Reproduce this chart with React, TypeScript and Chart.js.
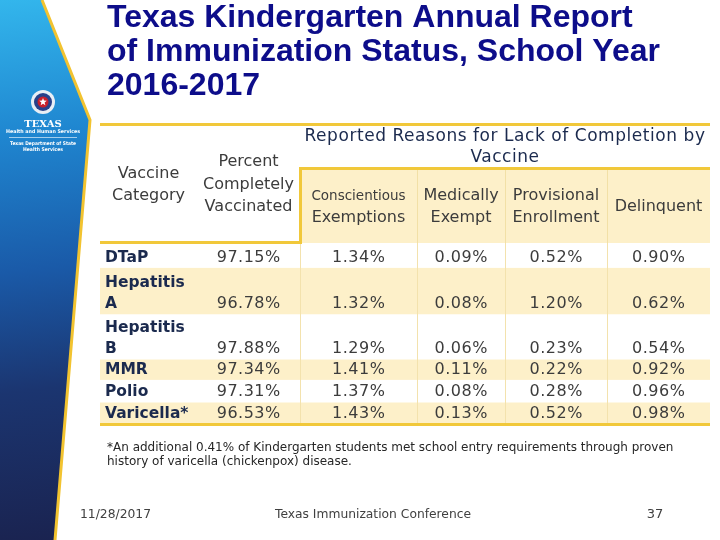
import React, { useEffect, useRef } from "react";
import { Chart, registerables } from "chart.js";

Chart.register(...registerables);

// ---- data ----
const vaccines = [["DTaP"], ["Hepatitis", "A"], ["Hepatitis", "B"], ["MMR"], ["Polio"], ["Varicella*"]];
const pctComplete = [97.15, 96.78, 97.88, 97.34, 97.31, 96.53];
const conscientious = [1.34, 1.32, 1.29, 1.41, 1.37, 1.43];
const medicallyExempt = [0.09, 0.08, 0.06, 0.11, 0.08, 0.13];
const provisional = [0.52, 1.2, 0.23, 0.22, 0.28, 0.52];
const delinquent = [0.9, 0.62, 0.54, 0.92, 0.96, 0.98];
const columnHeaders = [
  ["Vaccine", "Category"],
  ["Percent", "Completely", "Vaccinated"],
  ["Conscientious", "Exemptions"],
  ["Medically", "Exempt"],
  ["Provisional", "Enrollment"],
  ["Delinquent"],
];
const groupHeader = ["Reported Reasons for Lack of Completion by", "Vaccine"];
const titleLines = ["Texas Kindergarten Annual Report", "of Immunization Status, School Year", "2016-2017"];
const footnote = [
  "*An additional 0.41% of Kindergarten students met school entry requirements through proven",
  "history of varicella (chickenpox) disease.",
];
const footerDate = "11/28/2017";
const footerCenter = "Texas Immunization Conference";
const footerPage = "37";

// ---- layout ----
const columnWidths = [97, 103, 117, 88, 102, 103];
const rowUnits = [1.1, 2.05, 2, 0.9, 1, 0.95];
const colEdges = columnWidths.reduce((a, w) => [...a, a[a.length - 1] + w], [0] as number[]);
const rowEdges = rowUnits.reduce((a, w) => [...a, a[a.length - 1] + w], [0] as number[]);
const totalCols = colEdges[colEdges.length - 1];
const totalRows = rowEdges[rowEdges.length - 1];
const rowTextY = (r: number) => rowEdges[r + 1] - 0.45;
const colCenter = (c: number) => (colEdges[c] + colEdges[c + 1]) / 2;

const YELLOW = "#f1c83a";
const PALE = "#fdf0c9";
const NAVY = "#1b2a4e";
const GREY = "#3c3c3c";
const VALUE_FONT = "16px 'DejaVu Sans'";

const valueColumns = [pctComplete, conscientious, medicallyExempt, provisional, delinquent];

const slidePlugin = {
  id: "slidePlugin",
  beforeDatasetsDraw(chart: any) {
    const { ctx, chartArea, scales } = chart;
    const xs = scales.x;
    const ys = scales.y;
    const X = (v: number) => xs.getPixelForValue(v);
    const Y = (v: number) => ys.getPixelForValue(v);
    const L = X(0);
    const R = X(totalCols);
    const T = chartArea.top;
    const B = Y(totalRows);
    ctx.save();
    ctx.fillStyle = "#ffffff";
    ctx.fillRect(0, 0, chart.width, chart.height);

    // sidebar
    const g = ctx.createLinearGradient(0, 0, 60, 540);
    g.addColorStop(0, "#33b6ec");
    g.addColorStop(0.25, "#1f86d0");
    g.addColorStop(0.5, "#1a5aa8");
    g.addColorStop(0.72, "#1b3570");
    g.addColorStop(1, "#1a2350");
    ctx.beginPath();
    ctx.moveTo(0, 0);
    ctx.lineTo(42, 0);
    ctx.lineTo(90, 120);
    ctx.lineTo(55, 540);
    ctx.lineTo(0, 540);
    ctx.closePath();
    ctx.fillStyle = g;
    ctx.fill();
    ctx.beginPath();
    ctx.moveTo(42, 0);
    ctx.lineTo(90, 120);
    ctx.lineTo(55, 540);
    ctx.strokeStyle = "#f2c330";
    ctx.lineWidth = 3;
    ctx.stroke();
    // logo
    ctx.beginPath();
    ctx.arc(43, 102, 12, 0, Math.PI * 2);
    ctx.fillStyle = "#e8eef5";
    ctx.fill();
    ctx.beginPath();
    ctx.arc(43, 102, 9, 0, Math.PI * 2);
    ctx.fillStyle = "#27418a";
    ctx.fill();
    ctx.beginPath();
    ctx.arc(43, 102, 5.5, 0, Math.PI * 2);
    ctx.fillStyle = "#c8202c";
    ctx.fill();
    ctx.beginPath();
    for (let i = 0; i < 10; i++) {
      const a = -Math.PI / 2 + (i * Math.PI) / 5;
      const rr = i % 2 === 0 ? 4 : 1.7;
      const px = 43 + rr * Math.cos(a);
      const py = 102 + rr * Math.sin(a);
      if (i === 0) ctx.moveTo(px, py);
      else ctx.lineTo(px, py);
    }
    ctx.closePath();
    ctx.fillStyle = "#ffffff";
    ctx.fill();
    ctx.fillStyle = "#ffffff";
    ctx.textAlign = "center";
    ctx.textBaseline = "middle";
    ctx.font = "bold 10px 'DejaVu Serif'";
    ctx.fillText("TEXAS", 43, 124);
    ctx.font = "bold 5px 'DejaVu Sans'";
    ctx.fillText("Health and Human Services", 43, 132, 74);
    ctx.fillRect(9, 137, 68, 0.6);
    ctx.fillText("Texas Department of State", 43, 144, 66);
    ctx.fillText("Health Services", 43, 150, 40);

    // title
    ctx.textAlign = "left";
    ctx.textBaseline = "alphabetic";
    ctx.fillStyle = "#0d0d8a";
    ctx.font = "bold 32px 'Liberation Sans', Arial";
    titleLines.forEach((t, i) => ctx.fillText(t, 107, 27 + i * 34));

    // header
    ctx.fillStyle = PALE;
    ctx.fillRect(X(colEdges[2]), T - 75, R - X(colEdges[2]), 75);
    ctx.strokeStyle = "#f2e0a6";
    ctx.lineWidth = 1;
    for (let c = 3; c < colEdges.length - 1; c++) {
      ctx.beginPath();
      ctx.moveTo(Math.round(X(colEdges[c])) + 0.5, T - 74);
      ctx.lineTo(Math.round(X(colEdges[c])) + 0.5, T);
      ctx.stroke();
    }

    // row bands
    rowUnits.forEach((_, r) => {
      if (r % 2 === 1) {
        ctx.fillStyle = PALE;
        ctx.fillRect(L, Y(rowEdges[r]), R - L, Y(rowEdges[r + 1]) - Y(rowEdges[r]));
      }
    });
    // body column dividers
    ctx.strokeStyle = "#f3e2ad";
    for (let c = 2; c < colEdges.length - 1; c++) {
      ctx.beginPath();
      ctx.moveTo(Math.round(X(colEdges[c])) + 0.5, T);
      ctx.lineTo(Math.round(X(colEdges[c])) + 0.5, B);
      ctx.stroke();
    }

    // strong borders
    ctx.fillStyle = YELLOW;
    ctx.fillRect(L, T - 120, R - L, 3);
    ctx.fillRect(X(colEdges[2]), T - 76, R - X(colEdges[2]), 3);
    ctx.fillRect(X(colEdges[2]) - 1, T - 76, 3, 76);
    ctx.fillRect(L, T - 2, X(colEdges[2]) - L + 2, 3);
    ctx.fillRect(L, B - 1, R - L, 3);

    // header texts
    ctx.textAlign = "center";
    ctx.textBaseline = "middle";
    ctx.fillStyle = NAVY;
    ctx.font = "17px 'DejaVu Sans'";
    (ctx as any).letterSpacing = "0.55px";
    const gc = (X(colEdges[2]) + R) / 2;
    ctx.fillText(groupHeader[0], gc, T - 106);
    ctx.fillText(groupHeader[1], gc, T - 85);
    (ctx as any).letterSpacing = "0px";

    ctx.fillStyle = GREY;
    ctx.font = "16px 'DejaVu Sans'";
    const pctY = [-81, -58, -36];
    const c0 = colCenter(0);
    ctx.fillText(columnHeaders[0][0], X(c0), T - 69);
    ctx.fillText(columnHeaders[0][1], X(c0), T - 47);
    columnHeaders[1].forEach((t, i) => ctx.fillText(t, X(colCenter(1)), T + pctY[i]));
    for (let c = 2; c < columnHeaders.length; c++) {
      const lines = columnHeaders[c];
      const cx = X(colCenter(c));
      if (lines.length === 1) {
        ctx.font = "16px 'DejaVu Sans'";
        ctx.fillText(lines[0], cx, T - 36);
      } else {
        lines.forEach((t, i) => {
          ctx.font = c === 2 && i === 0 ? "13.5px 'DejaVu Sans'" : "16px 'DejaVu Sans'";
          ctx.fillText(t, cx, T - 47 + i * 22);
        });
      }
    }

    // footnote & footer
    ctx.textAlign = "left";
    ctx.fillStyle = "#262626";
    ctx.font = "12px 'DejaVu Sans'";
    ctx.fillText(footnote[0], 107, 448, 572);
    ctx.fillText(footnote[1], 107, 462, 246);
    ctx.fillStyle = "#404040";
    ctx.font = "13px 'DejaVu Sans'";
    ctx.fillText(footerDate, 80, 515, 71);
    ctx.textAlign = "center";
    ctx.fillText(footerCenter, 373, 515, 196);
    ctx.fillText(footerPage, 655, 515);
    ctx.restore();
  },
  afterDatasetsDraw(chart: any) {
    const { ctx } = chart;
    ctx.save();
    ctx.textBaseline = "middle";
    // vaccine names (dataset 0)
    const nameMeta = chart.getDatasetMeta(0);
    ctx.textAlign = "left";
    ctx.fillStyle = NAVY;
    ctx.font = "bold 15.5px 'DejaVu Sans'";
    nameMeta.data.forEach((pt: any, r: number) => {
      const lines = vaccines[r];
      lines.forEach((t, i) => ctx.fillText(t, pt.x, pt.y - (lines.length - 1 - i) * 21));
    });
    // values
    ctx.textAlign = "center";
    ctx.fillStyle = GREY;
    ctx.font = VALUE_FONT;
    (ctx as any).letterSpacing = "0.5px";
    valueColumns.forEach((vals, c) => {
      const meta = chart.getDatasetMeta(c + 1);
      meta.data.forEach((pt: any, r: number) => {
        ctx.fillText(vals[r].toFixed(2) + "%", pt.x + 0.25, pt.y);
      });
    });
    ctx.restore();
  },
};

export default function App() {
  const ref = useRef<HTMLCanvasElement>(null);
  useEffect(() => {
    if (!ref.current) return;
    const datasets: any[] = [
      {
        label: columnHeaders[0].join(" "),
        data: vaccines.map((_, r) => ({ x: colEdges[0] + 5, y: rowTextY(r) })),
        pointRadius: 0,
      },
      ...valueColumns.map((vals, c) => ({
        label: columnHeaders[c + 1].join(" "),
        data: vals.map((_, r) => ({ x: colCenter(c + 1), y: rowTextY(r) })),
        pointRadius: 0,
      })),
    ];
    const chart = new Chart(ref.current, {
      type: "scatter",
      data: { datasets },
      options: {
        animation: false,
        responsive: false,
        devicePixelRatio: 1,
        layout: { padding: { left: 100, right: 10, top: 243, bottom: 116 } },
        scales: {
          x: { type: "linear", min: 0, max: totalCols, display: false },
          y: { type: "linear", min: 0, max: totalRows, reverse: true, display: false },
        },
        plugins: { legend: { display: false }, tooltip: { enabled: false } },
        events: [],
      },
      plugins: [slidePlugin],
    });
    return () => chart.destroy();
  }, []);
  return (
    <div style={{ position: "fixed", left: 0, top: 0, width: 720, height: 540, background: "#fff" }}>
      <canvas ref={ref} width={720} height={540} style={{ width: 720, height: 540, display: "block" }} />
    </div>
  );
}
